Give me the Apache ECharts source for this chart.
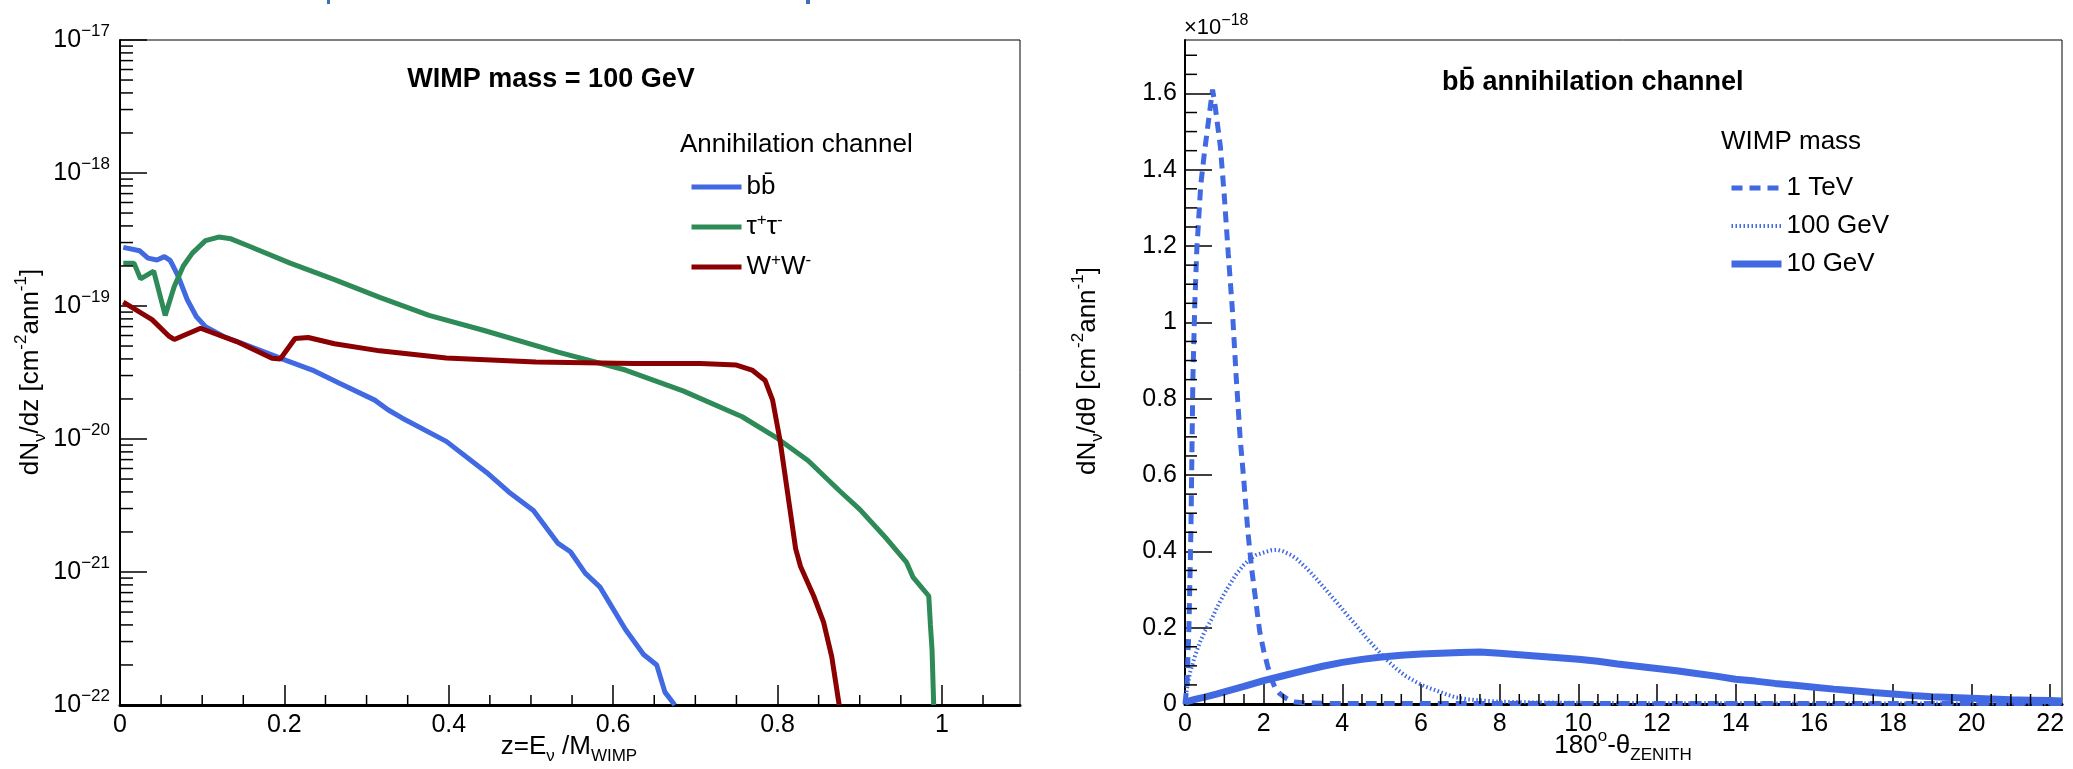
<!DOCTYPE html>
<html><head><meta charset="utf-8">
<script src="https://cdn.jsdelivr.net/npm/echarts@6/dist/echarts.min.js"></script>
<style>html,body{margin:0;padding:0;background:#fff}#c{width:2073px;height:769px}</style>
</head><body><div id="c"></div>
<script>
// ---------------- data (left: WIMP mass = 100 GeV, dN/dz in cm^-2 ann^-1) ----------------
const bbZ = [0.004,0.024,0.034,0.045,0.054,0.061,0.063,0.071,0.082,0.093,0.104,0.126,0.153,0.180,0.202,0.234,0.267,0.310,0.326,0.343,0.397,0.446,0.473,0.503,0.533,0.548,0.566,0.584,0.615,0.637,0.653,0.663,0.675];
const bbV = [2.76e-19,2.6e-19,2.29e-19,2.22e-19,2.35e-19,2.2e-19,2.09e-19,1.66e-19,1.11e-19,8.3e-20,7.0e-20,5.9e-20,5.1e-20,4.4e-20,3.9e-20,3.3e-20,2.62e-20,1.96e-20,1.66e-20,1.44e-20,9.6e-21,5.6e-21,4.0e-21,2.9e-21,1.64e-21,1.42e-21,9.8e-22,7.7e-22,3.7e-22,2.4e-22,2.0e-22,1.25e-22,1.0e-22];
const ttZ = [0.004,0.017,0.025,0.041,0.055,0.066,0.077,0.088,0.104,0.120,0.135,0.158,0.207,0.261,0.316,0.376,0.441,0.533,0.615,0.685,0.757,0.800,0.837,0.875,0.900,0.933,0.957,0.965,0.984,0.986,0.988,0.990];
const ttV = [2.1e-19,2.1e-19,1.6e-19,1.83e-19,8.5e-20,1.4e-19,2.0e-19,2.5e-19,3.1e-19,3.3e-19,3.2e-19,2.8e-19,2.1e-19,1.58e-19,1.16e-19,8.5e-20,6.6e-20,4.5e-20,3.3e-20,2.3e-20,1.47e-20,1.01e-20,6.9e-21,4.1e-21,2.96e-21,1.77e-21,1.18e-21,9.1e-22,6.6e-22,4.0e-22,2.6e-22,1.0e-22];
const wwZ = [0.004,0.039,0.060,0.066,0.098,0.142,0.185,0.195,0.213,0.229,0.261,0.316,0.397,0.506,0.625,0.706,0.750,0.769,0.785,0.794,0.803,0.815,0.822,0.828,0.844,0.856,0.866,0.875];
const wwV = [1.07e-19,7.9e-20,5.9e-20,5.6e-20,6.8e-20,5.4e-20,4.05e-20,4.0e-20,5.7e-20,5.8e-20,5.2e-20,4.6e-20,4.07e-20,3.8e-20,3.7e-20,3.7e-20,3.6e-20,3.3e-20,2.75e-20,1.96e-20,9.8e-21,3.0e-21,1.5e-21,1.1e-21,6.6e-22,4.2e-22,2.3e-22,1.0e-22];

// ---------------- data (right: bb channel, dN/dtheta, in units of 1e-18) ----------------
const tevT = [0,0.05,0.1,0.15,0.2,0.25,0.3,0.4,0.5,0.6,0.7,0.75,0.8,0.9,1.0,1.1,1.2,1.3,1.4,1.5,1.6,1.7,1.8,1.9,2.0,2.1,2.2,2.3,2.4,2.5,2.6,2.7,2.8,3.0,3.5,4,6,8,10,12,14,16,18,20,22.3];
const tevV = [0,0.05,0.2,0.45,0.85,1.05,1.19,1.36,1.45,1.53,1.61,1.58,1.54,1.46,1.33,1.18,1.04,0.86,0.70,0.58,0.45,0.35,0.27,0.19,0.14,0.10,0.065,0.04,0.028,0.02,0.013,0.008,0.005,0.003,0.002,0.001,0.001,0.001,0.001,0.001,0.001,0.001,0.001,0.001,0.001];
const g100T = [0,0.05,0.13,0.25,0.38,0.5,0.68,0.8,0.97,1.15,1.31,1.5,1.65,1.8,2.0,2.2,2.35,2.5,2.7,2.84,3.1,3.35,3.6,3.86,4.1,4.36,4.6,4.87,5.1,5.38,5.6,5.89,6.1,6.4,6.65,6.9,7.2,7.58,8,8.4,9,10,12,14,16,18,20,22.3];
const g100V = [0,0.04,0.083,0.125,0.162,0.19,0.223,0.25,0.284,0.315,0.341,0.365,0.38,0.39,0.397,0.403,0.404,0.40,0.39,0.38,0.355,0.327,0.297,0.266,0.236,0.205,0.175,0.144,0.118,0.092,0.074,0.057,0.046,0.035,0.025,0.017,0.012,0.009,0.006,0.005,0.004,0.003,0.002,0.002,0.001,0.001,0.001,0.001];
const g10T = [0,0.25,0.5,0.8,1.0,1.5,2.0,2.5,3.0,3.5,4.0,4.5,5.0,5.5,6.0,6.5,7.0,7.5,8.0,8.5,9.0,9.5,10,10.5,11,11.5,12,12.5,13,13.5,14,14.5,15,15.5,16,16.5,17,17.5,18,18.5,19,19.5,20,20.5,21,21.5,22,22.3];
const g10V = [0.005,0.012,0.018,0.026,0.032,0.046,0.061,0.074,0.087,0.099,0.109,0.117,0.123,0.128,0.131,0.133,0.135,0.136,0.133,0.129,0.125,0.121,0.117,0.112,0.105,0.099,0.093,0.087,0.080,0.073,0.065,0.060,0.054,0.049,0.044,0.039,0.035,0.030,0.026,0.022,0.019,0.017,0.015,0.013,0.011,0.010,0.009,0.008];

// tick labels
const leftXTicks = [0,0.2,0.4,0.6,0.8,1];
const rightXTicks = [0,2,4,6,8,10,12,14,16,18,20,22];
const rightYTicks = [0,0.2,0.4,0.6,0.8,1,1.2,1.4,1.6];
const leftYExp = [-22,-21,-20,-19,-18,-17];

// ECharts' log scale rounds to 20 decimals, so the left plot is drawn in units of 1e-22
const LOG_OFFSET = 22, U = 1e22;
const zip = (a,b,s) => a.map((x,i)=>[x, s ? b[i]*s : b[i]]);
const FONT = 'Liberation Sans';
const BLUE = '#4169e1', GREEN = '#2e8b57', RED = '#8b0000';
const DOT = [1.5,2.5];

// minor tick positions (axis furniture)
const lxMinor = []; for (let k=1;k<=21;k++){ if(k%4) lxMinor.push([k*0.05,1]); }
const lyMinor = []; for (let e=0;e<=4;e++){ for(let m=2;m<=9;m++) lyMinor.push([0,m*Math.pow(10,e)]); }
const rxMinor = []; for (let k=1;k<=43;k++){ if(k%4) rxMinor.push([k*0.5,0]); }
const ryMinor = []; for (let k=1;k<=34;k++){ if(k%4) ryMinor.push([0,k*0.05]); }

function tickSeries(xi, yi, pts, dir, len){
  return {type:'custom', xAxisIndex:xi, yAxisIndex:yi, silent:true, z:4, clip:false, data:pts,
    renderItem:(params, api)=>{
      const p = api.coord([api.value(0), api.value(1)]);
      return {type:'line', shape:{x1:p[0], y1:p[1], x2: dir==='x'?p[0]:p[0]+len, y2: dir==='x'?p[1]-len:p[1]},
        style:{stroke:'#000', lineWidth:1.5}};
    }};
}

const supRich = {
  n:{fontSize:26, fontFamily:FONT, color:'#000', lineHeight:30},
  sub:{fontSize:17, fontFamily:FONT, color:'#000', lineHeight:17, verticalAlign:'bottom'},
  sup:{fontSize:17, fontFamily:FONT, color:'#000', lineHeight:15, verticalAlign:'top'}
};
const gRich = {
  n:{fontSize:26, fontFamily:FONT, fill:'#000', lineHeight:36},
  sub:{fontSize:17, fontFamily:FONT, fill:'#000', lineHeight:17, verticalAlign:'bottom'},
  sup:{fontSize:17, fontFamily:FONT, fill:'#000', lineHeight:17, verticalAlign:'top'}
};
const legendLabels = {
  'bb':'{n|bb\u0304}',
  'tt':'{n|\u03c4}{sup|+}{n|\u03c4}{sup|-}',
  'ww':'{n|W}{sup|+}{n|W}{sup|-}',
  '1 TeV':'{n|1 TeV}', '100 GeV':'{n|100 GeV}', '10 GeV':'{n|10 GeV}'
};
const legendBase = {orient:'vertical', itemWidth:50, itemHeight:12, itemGap:12, selectedMode:false,
  itemStyle:{opacity:0, borderWidth:0},
  formatter:n=>legendLabels[n], textStyle:{fontSize:26, fontFamily:FONT, color:'#000', rich:supRich}};

const axisLbl = {fontSize:25, fontFamily:FONT, color:'#000', margin:8};
const pick = (arr) => v => { const t = arr.find(a=>Math.abs(a-v)<1e-6); return t===undefined ? '' : String(t); };

const option = {
  animation:false,
  backgroundColor:'#fff',
  grid:[
    {left:120, top:40, width:900, height:665, show:true, borderColor:'#000', borderWidth:1},
    {left:1185, top:40, width:877, height:664, show:true, borderColor:'#000', borderWidth:1}
  ],
  xAxis:[
    {gridIndex:0, type:'value', min:0, max:1.095, interval:0.2,
     axisLine:{show:true, onZero:false, lineStyle:{color:'#000', width:3}},
     axisTick:{inside:true, length:20, lineStyle:{color:'#000', width:1.5}},
     axisLabel:Object.assign({}, axisLbl, {showMaxLabel:false, formatter:pick(leftXTicks)}),
     splitLine:{show:false}},
    {gridIndex:1, type:'value', min:0, max:22.3, interval:2,
     axisLine:{show:true, onZero:false, lineStyle:{color:'#000', width:3}},
     axisTick:{inside:true, length:20, lineStyle:{color:'#000', width:1.5}},
     axisLabel:Object.assign({}, axisLbl, {showMaxLabel:false, formatter:pick(rightXTicks)}),
     splitLine:{show:false}}
  ],
  yAxis:[
    {gridIndex:0, type:'log', logBase:10, min:1, max:1e5, interval:1,
     axisLine:{show:true, lineStyle:{color:'#000', width:2}},
     axisTick:{inside:true, length:27, lineStyle:{color:'#000', width:1.5}},
     axisLabel:{margin:10, formatter:v=>{const e=Math.round(Math.log10(v))-LOG_OFFSET;
         if(!leftYExp.includes(e)) return ''; return '{b|10}{s|\u2212'+(-e)+'}';},
       rich:{b:{fontSize:25, fontFamily:FONT, color:'#000', lineHeight:34},
             s:{fontSize:17, fontFamily:FONT, color:'#000', lineHeight:17, verticalAlign:'top'}}},
     splitLine:{show:false}},
    {gridIndex:1, type:'value', min:0, max:1.74, interval:0.2,
     axisLine:{show:true, lineStyle:{color:'#000', width:2}},
     axisTick:{inside:true, length:27, lineStyle:{color:'#000', width:1.5}},
     axisLabel:Object.assign({}, axisLbl, {showMaxLabel:false, formatter:pick(rightYTicks)}),
     splitLine:{show:false}}
  ],
  legend:[
    Object.assign({}, legendBase, {left:684, top:169, lineStyle:{width:5},
      data:[{name:'bb'},{name:'tt'},{name:'ww'}]}),
    Object.assign({}, legendBase, {left:1723, top:170,
      data:[{name:'1 TeV', lineStyle:{width:5, type:[11,7]}},{name:'100 GeV', lineStyle:{width:4, type:DOT}},{name:'10 GeV', lineStyle:{width:7}}]})
  ],
  graphic:[
    // descenders of a cut-off slide title above the figure
    {type:'rect', shape:{x:327, y:0, width:3, height:4}, style:{fill:'#3d6fb6'}},
    {type:'rect', shape:{x:806, y:0, width:4, height:4}, style:{fill:'#3d6fb6'}},
    {type:'text', x:551, y:80, style:{text:'WIMP mass = 100 GeV', fontSize:27, fontWeight:'bold', fontFamily:FONT, fill:'#000', align:'center', verticalAlign:'middle'}},
    {type:'text', x:680, y:145, style:{text:'Annihilation channel', fontSize:26, fontFamily:FONT, fill:'#000', align:'left', verticalAlign:'middle'}},
    {type:'text', x:1442, y:83, style:{text:'bb\u0304 annihilation channel', fontSize:27, fontWeight:'bold', fontFamily:FONT, fill:'#000', align:'left', verticalAlign:'middle'}},
    {type:'text', x:1721, y:142, style:{text:'WIMP mass', fontSize:26, fontFamily:FONT, fill:'#000', align:'left', verticalAlign:'middle'}},
    {type:'text', x:1184, y:28, style:{text:'{a|\u00d710}{s|\u221218}', align:'left', verticalAlign:'middle',
      rich:{a:{fontSize:22, fontFamily:FONT, fill:'#000', lineHeight:30}, s:{fontSize:16, fontFamily:FONT, fill:'#000', lineHeight:16, verticalAlign:'top'}}}},
    {type:'text', x:31, y:372, rotation:Math.PI/2, style:{text:'{n|dN}{sub|\u03bd}{n|/dz [cm}{sup|-2}{n|ann}{sup|-1}{n|]}', align:'center', verticalAlign:'middle', rich:gRich}},
    {type:'text', x:1088, y:371, rotation:Math.PI/2, style:{text:'{n|dN}{sub|\u03bd}{n|/d\u03b8 [cm}{sup|-2}{n|ann}{sup|-1}{n|]}', align:'center', verticalAlign:'middle', rich:gRich}},
    {type:'text', x:569, y:747, style:{text:'{n|z=E}{sub|\u03bd}{n| /M}{sub|WIMP}', align:'center', verticalAlign:'middle', rich:gRich}},
    {type:'text', x:1623, y:746, style:{text:'{n|180}{sup|o}{n|-\u03b8}{sub|ZENITH}', align:'center', verticalAlign:'middle', rich:gRich}}
  ],
  series:[
    {name:'bb', type:'line', xAxisIndex:0, yAxisIndex:0, data:zip(bbZ,bbV,U), symbol:'none', z:3, lineStyle:{color:BLUE, width:5}, itemStyle:{color:BLUE}},
    {name:'tt', type:'line', xAxisIndex:0, yAxisIndex:0, data:zip(ttZ,ttV,U), symbol:'none', z:3, lineStyle:{color:GREEN, width:5}, itemStyle:{color:GREEN}},
    {name:'ww', type:'line', xAxisIndex:0, yAxisIndex:0, data:zip(wwZ,wwV,U), symbol:'none', z:3, lineStyle:{color:RED, width:5}, itemStyle:{color:RED}},
    {name:'1 TeV', type:'line', xAxisIndex:1, yAxisIndex:1, data:zip(tevT,tevV), symbol:'none', z:3, lineStyle:{color:BLUE, width:5, type:[11,7]}, itemStyle:{color:BLUE}},
    {name:'100 GeV', type:'line', xAxisIndex:1, yAxisIndex:1, data:zip(g100T,g100V), symbol:'none', z:3, lineStyle:{color:BLUE, width:4, type:DOT}, itemStyle:{color:BLUE}},
    {name:'10 GeV', type:'line', xAxisIndex:1, yAxisIndex:1, data:zip(g10T,g10V), symbol:'none', z:3, lineStyle:{color:BLUE, width:7}, itemStyle:{color:BLUE}},
    tickSeries(0,0,lxMinor,'x',10),
    tickSeries(0,0,lyMinor,'y',13),
    tickSeries(1,1,rxMinor,'x',10),
    tickSeries(1,1,ryMinor,'y',12)
  ]
};
const chart = echarts.init(document.getElementById('c'), null, {renderer:'canvas'});
chart.setOption(option);
</script></body></html>
